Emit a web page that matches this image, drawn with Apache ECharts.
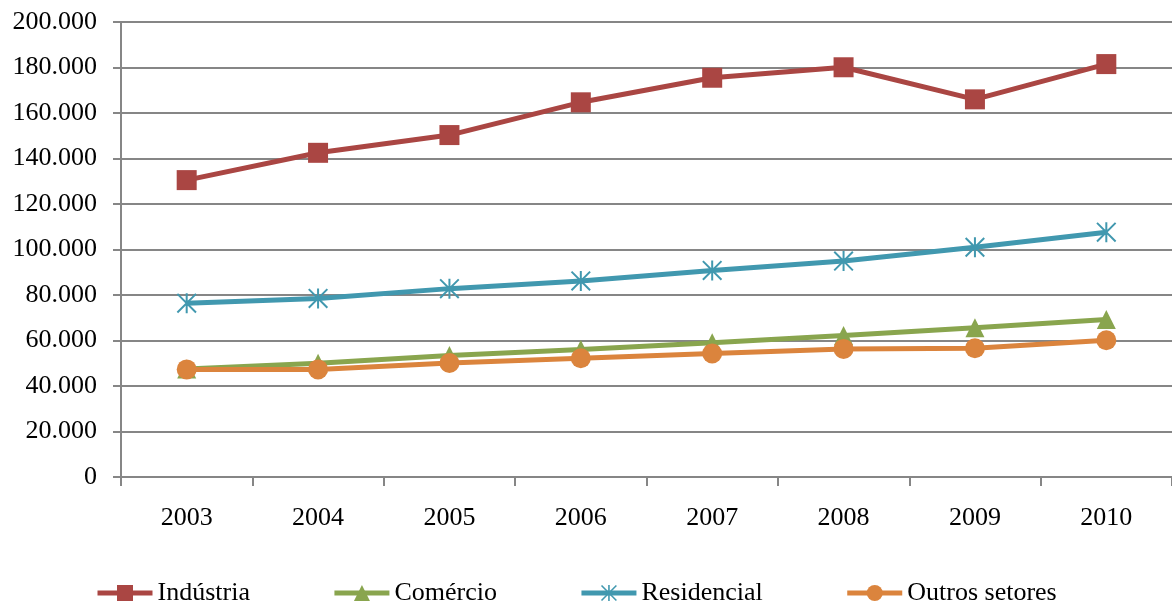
<!DOCTYPE html>
<html>
<head>
<meta charset="utf-8">
<script src="https://cdn.jsdelivr.net/npm/echarts@6/dist/echarts.min.js"></script>
<style>html,body{margin:0;padding:0;background:#fff;}#c{width:1172px;height:604px;}</style>
</head>
<body>
<div id="c"></div>
<script>
var years = ['2003','2004','2005','2006','2007','2008','2009','2010'];
var industria = [130500, 142500, 150300, 164700, 175500, 180100, 166000, 181500];
var comercio = [47500, 50000, 53400, 56000, 59000, 62200, 65600, 69200];
var residencial = [76400, 78500, 82800, 86200, 90800, 94900, 101000, 107600];
var outros = [47300, 47300, 50100, 52200, 54300, 56300, 56600, 60100];
var seriesNames = ['Indústria','Comércio','Residencial','Outros setores'];
var colors = ['#AA4643','#89A54E','#4198AF','#DB843D'];

var starPath = 'path://M9 0 L11 0 L11 20 L9 20 Z M0 1.4 L1.4 0 L20 18.6 L18.6 20 Z M18.6 0 L20 1.4 L1.4 20 L0 18.6 Z';
var font = '"Liberation Serif", "Times New Roman", serif';

function fmt(v){
  if (v === 0) return '0';
  return String(v).replace(/\B(?=(\d{3})+(?!\d))/g, '.');
}

var chart = echarts.init(document.getElementById('c'), null, {renderer:'canvas'});
function mk(name, data, color, symbol, size){
  return {
    name: name, type: 'line', data: data,
    symbol: symbol, symbolSize: size,
    lineStyle: {color: color, width: 5},
    itemStyle: {color: color},
    z: 3,
    animation: false
  };
}
chart.setOption({
  animation: false,
  color: colors,
  grid: {left: 121, right: 0, top: 22, bottom: 127, containLabel: false},
  legend: {
    top: 580, left: 95, padding: 0,
    itemWidth: 55, itemHeight: 20, itemGap: 82,
    lineStyle: {width: 5},
    textStyle: {fontFamily: font, fontSize: 26, color: '#000'},
    data: seriesNames
  },
  xAxis: {
    type: 'category', data: years, boundaryGap: true,
    axisLine: {lineStyle: {color: '#868686', width: 2}},
    axisTick: {show: true, length: 9, interval: 0, lineStyle: {color: '#868686', width: 2}},
    axisLabel: {fontFamily: font, fontSize: 26, color: '#000', margin: 28, interval: 0},
    splitLine: {show: false}
  },
  yAxis: {
    type: 'value', min: 0, max: 200000, interval: 20000,
    axisLine: {show: true, lineStyle: {color: '#868686', width: 2}},
    axisTick: {show: true, length: 8, lineStyle: {color: '#868686', width: 2}},
    axisLabel: {fontFamily: font, fontSize: 26, color: '#000', margin: 24, formatter: fmt},
    splitLine: {show: true, lineStyle: {color: '#868686', width: 2}}
  },
  series: [
    mk(seriesNames[0], industria, colors[0], 'rect', 20),
    mk(seriesNames[1], comercio, colors[1], 'triangle', 19),
    mk(seriesNames[2], residencial, colors[2], starPath, 20),
    mk(seriesNames[3], outros, colors[3], 'circle', 20)
  ]
});
</script>
</body>
</html>
